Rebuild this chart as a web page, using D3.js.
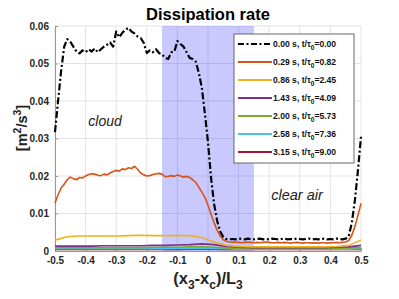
<!DOCTYPE html>
<html>
<head>
<meta charset="utf-8">
<script src="https://cdn.jsdelivr.net/npm/d3@7"></script>
<style>
  body { margin: 0; background: #fff; }
  text { font-family: "Liberation Sans", Arial, sans-serif; }
</style>
</head>
<body>
<script>
// fine grid for the two strong curves, coarse grid for the rest
const xFine = [-0.50,-0.49,-0.48,-0.47,-0.46,-0.45,-0.44,-0.43,-0.42,-0.41,
  -0.40,-0.39,-0.38,-0.37,-0.36,-0.35,-0.34,-0.33,-0.32,-0.31,
  -0.30,-0.29,-0.28,-0.27,-0.26,-0.25,-0.24,-0.23,-0.22,-0.21,
  -0.20,-0.19,-0.18,-0.17,-0.16,-0.15,-0.14,-0.13,-0.12,-0.11,
  -0.10,-0.09,-0.08,-0.07,-0.06,-0.05,-0.04,-0.03,-0.02,-0.01,
  0.00,0.01,0.02,0.03,0.04,0.05,0.06,0.07,0.08,0.09,
  0.10,0.11,0.12,0.13,0.14,0.15,0.16,0.17,0.18,0.19,
  0.20,0.21,0.22,0.23,0.24,0.25,0.26,0.27,0.28,0.29,
  0.30,0.31,0.32,0.33,0.34,0.35,0.36,0.37,0.38,0.39,
  0.40,0.41,0.42,0.43,0.44,0.45,0.46,0.47,0.48,0.49,0.50];

const eps0 = [0.0317,0.0400,0.0480,0.0545,0.0565,0.0558,0.0545,0.0532,0.0527,0.0535,
  0.0530,0.0538,0.0532,0.0540,0.0530,0.0538,0.0545,0.0550,0.0556,0.0545,
  0.0585,0.0570,0.0582,0.0590,0.0595,0.0585,0.0580,0.0572,0.0568,0.0555,
  0.0528,0.0535,0.0530,0.0538,0.0528,0.0524,0.0515,0.0512,0.0530,0.0532,
  0.0560,0.0552,0.0545,0.0530,0.0515,0.0512,0.0505,0.0475,0.0435,0.0365,
  0.0290,0.0195,0.0125,0.0080,0.0052,0.0037,0.0032,0.0031,0.0032,0.0031,
  0.0033,0.0032,0.0031,0.0033,0.0032,0.0031,0.0032,0.0033,0.0031,0.0032,
  0.0031,0.0033,0.0032,0.0031,0.0032,0.0033,0.0031,0.0032,0.0031,0.0033,
  0.0032,0.0031,0.0032,0.0033,0.0031,0.0032,0.0031,0.0032,0.0033,0.0031,
  0.0032,0.0031,0.0033,0.0032,0.0031,0.0033,0.0040,0.0075,0.0135,0.0215,0.0305];

const eps1 = [0.0128,0.0150,0.0168,0.0178,0.0190,0.0197,0.0193,0.0190,0.0196,0.0195,
  0.0200,0.0204,0.0206,0.0205,0.0202,0.0201,0.0205,0.0203,0.0208,0.0212,
  0.0215,0.0213,0.0219,0.0217,0.0222,0.0220,0.0226,0.0218,0.0208,0.0203,
  0.0200,0.0201,0.0204,0.0206,0.0207,0.0205,0.0198,0.0199,0.0201,0.0199,
  0.0203,0.0200,0.0197,0.0199,0.0196,0.0190,0.0183,0.0170,0.0157,0.0143,
  0.0122,0.0098,0.0075,0.0055,0.0040,0.0030,0.0026,0.0024,0.0023,0.0024,
  0.0023,0.0022,0.0023,0.0024,0.0023,0.0022,0.0023,0.0022,0.0023,0.0024,
  0.0023,0.0022,0.0022,0.0023,0.0022,0.0023,0.0022,0.0021,0.0022,0.0023,
  0.0022,0.0021,0.0022,0.0022,0.0021,0.0022,0.0021,0.0022,0.0022,0.0021,
  0.0022,0.0022,0.0023,0.0022,0.0023,0.0024,0.0028,0.0042,0.0065,0.0095,0.0127];

const xCoarse = [-0.50,-0.46,-0.42,-0.38,-0.34,-0.30,-0.26,-0.22,-0.18,-0.14,
  -0.10,-0.06,-0.02,0.02,0.06,0.10,0.14,0.18,0.22,0.26,
  0.30,0.34,0.38,0.42,0.46,0.50];

const eps2 = [0.0029,0.0038,0.0040,0.0040,0.0040,0.0040,0.0041,0.0042,0.0041,0.0041,
  0.0041,0.0041,0.0036,0.0024,0.0015,0.0012,0.0011,0.0011,0.0011,0.0011,
  0.0011,0.0011,0.0011,0.0012,0.0015,0.0029];
const eps3 = [0.0013,0.0013,0.0013,0.0013,0.0014,0.0014,0.0014,0.0014,0.0015,0.0015,
  0.0016,0.0017,0.0019,0.0017,0.0012,0.0010,0.0009,0.0009,0.0009,0.0009,
  0.0009,0.0009,0.0009,0.0010,0.0011,0.0015];
const eps4 = [0.0009,0.0009,0.0009,0.0009,0.0009,0.0009,0.0009,0.0009,0.0010,0.0010,
  0.0010,0.0011,0.0011,0.0010,0.0008,0.0007,0.0007,0.0007,0.0007,0.0007,
  0.0007,0.0007,0.0007,0.0007,0.0008,0.0009];
const eps5 = [0.0006,0.0006,0.0006,0.0006,0.0006,0.0006,0.0006,0.0006,0.0006,0.0006,
  0.0007,0.0007,0.0007,0.0007,0.0006,0.0005,0.0005,0.0005,0.0005,0.0005,
  0.0005,0.0005,0.0005,0.0005,0.0005,0.0006];
const eps6 = [0.0004,0.0004,0.0004,0.0004,0.0004,0.0004,0.0004,0.0004,0.0004,0.0004,
  0.0004,0.0005,0.0005,0.0005,0.0004,0.0004,0.0004,0.0004,0.0004,0.0004,
  0.0004,0.0004,0.0004,0.0004,0.0004,0.0004];

const times = ["0.00", "0.29", "0.86", "1.43", "2.00", "2.58", "3.15"];
const tauRatios = ["0.00", "0.82", "2.45", "4.09", "5.73", "7.36", "9.00"];
const colors = ["#000000", "#D95319", "#EDB120", "#7E2F8E", "#77AC30", "#4DBEEE", "#A2142F"];

const xTicks = [-0.5, -0.4, -0.3, -0.2, -0.1, 0, 0.1, 0.2, 0.3, 0.4, 0.5];
const yTicks = [0, 0.01, 0.02, 0.03, 0.04, 0.05, 0.06];
const bandRange = [-0.15, 0.15];

const width = 399, height = 299;
const margin = {top: 26, right: 38, bottom: 48, left: 55};

const series = [
  {x: xFine, y: eps0}, {x: xFine, y: eps1}, {x: xCoarse, y: eps2},
  {x: xCoarse, y: eps3}, {x: xCoarse, y: eps4}, {x: xCoarse, y: eps5},
  {x: xCoarse, y: eps6}
];

const svg = d3.select("body").append("svg")
  .attr("width", width).attr("height", height);

const xScale = d3.scaleLinear().domain([-0.5, 0.5]).range([margin.left, width - margin.right]);
const yScale = d3.scaleLinear().domain([0, 0.06]).range([height - margin.bottom, margin.top]);

// matlab-ish labels: plain hyphen, no unicode minus
const fmtX = d => d === 0 ? "0" : d3.format(".1f")(d).replace("\u2212", "-");
const fmtY = d => d === 0 ? "0" : d3.format(".2f")(d);

// grid
svg.append("g").selectAll("line").data(xTicks).join("line")
  .attr("x1", d => xScale(d)).attr("x2", d => xScale(d))
  .attr("y1", yScale(0)).attr("y2", yScale(0.06))
  .attr("stroke", "#e3e3e3").attr("stroke-width", 1);
svg.append("g").selectAll("line").data(yTicks).join("line")
  .attr("x1", xScale(-0.5)).attr("x2", xScale(0.5))
  .attr("y1", d => yScale(d)).attr("y2", d => yScale(d))
  .attr("stroke", "#e3e3e3").attr("stroke-width", 1);

// shaded transition band
svg.append("rect")
  .attr("x", xScale(bandRange[0])).attr("width", xScale(bandRange[1]) - xScale(bandRange[0]))
  .attr("y", yScale(0.06)).attr("height", yScale(0) - yScale(0.06))
  .attr("fill", "#0000ff").attr("fill-opacity", 0.21);

// axes
const xAxis = svg.append("g")
  .attr("transform", `translate(0,${yScale(0)})`)
  .call(d3.axisBottom(xScale).tickValues(xTicks).tickSizeInner(-3).tickSizeOuter(0).tickPadding(6)
    .tickFormat(fmtX));
const yAxis = svg.append("g")
  .attr("transform", `translate(${xScale(-0.5)},0)`)
  .call(d3.axisLeft(yScale).tickValues(yTicks).tickSizeInner(-3).tickSizeOuter(0).tickPadding(6)
    .tickFormat(fmtY));
[xAxis, yAxis].forEach(g => {
  g.select(".domain").attr("stroke", "#999");
  g.selectAll(".tick line").attr("stroke", "#999");
  g.selectAll(".tick text").attr("fill", "#262626")
    .style("font-size", "10px").style("font-weight", "bold");
});

// curves, drawn weakest first so the strong ones sit on top
const line = d3.line().x(d => xScale(d[0])).y(d => yScale(d[1]));
series.slice().reverse().forEach((s, ri) => {
  const i = series.length - 1 - ri;
  svg.append("path")
    .datum(d3.zip(s.x, s.y))
    .attr("d", line)
    .attr("fill", "none")
    .attr("stroke", colors[i])
    .attr("stroke-width", i === 0 ? 2.2 : 1.6)
    .attr("stroke-dasharray", i === 0 ? "7,2.5,2,2.5" : null)
    .attr("stroke-linejoin", "round");
});

// annotations
svg.append("text").attr("x", 105).attr("y", 126).attr("text-anchor", "middle")
  .style("font-size", "14px").style("font-style", "italic").attr("fill", "#222").text("cloud");
svg.append("text").attr("x", 297).attr("y", 200).attr("text-anchor", "middle")
  .style("font-size", "14.5px").style("font-style", "italic").attr("fill", "#222").text("clear air");

// title and axis labels
svg.append("text").attr("x", 208).attr("y", 20).attr("text-anchor", "middle")
  .style("font-size", "16.5px").style("font-weight", "bold").attr("fill", "#000").text("Dissipation rate");

const xl = svg.append("text").attr("x", 208).attr("y", 284).attr("text-anchor", "middle")
  .style("font-size", "16.5px").style("font-weight", "bold").attr("fill", "#222");
xl.append("tspan").text("(x");
xl.append("tspan").attr("dy", 5).style("font-size", "12px").text("3");
xl.append("tspan").attr("dy", -5).text("-x");
xl.append("tspan").attr("dy", 5).style("font-size", "12px").text("c");
xl.append("tspan").attr("dy", -5).text(")/L");
xl.append("tspan").attr("dy", 5).style("font-size", "12px").text("3");

const yl = svg.append("text").attr("transform", "translate(27,128) rotate(-90)")
  .attr("text-anchor", "middle")
  .style("font-size", "14.5px").style("font-weight", "bold").attr("fill", "#222");
yl.append("tspan").text("[m");
yl.append("tspan").attr("dy", -6).style("font-size", "10.5px").text("2");
yl.append("tspan").attr("dy", 6).text("/s");
yl.append("tspan").attr("dy", -6).style("font-size", "10.5px").text("3");
yl.append("tspan").attr("dy", 6).text("]");

// legend
const legend = svg.append("g").attr("transform", "translate(234,34)");
legend.append("rect").attr("width", 120).attr("height", 129)
  .attr("fill", "#fff").attr("stroke", "#444").attr("stroke-width", 0.8);
const rows = legend.selectAll("g.row").data(times).join("g")
  .attr("class", "row")
  .attr("transform", (d, i) => `translate(0,${10 + i * 18})`);
rows.append("line").attr("x1", 4).attr("x2", 38).attr("y1", 0).attr("y2", 0)
  .attr("stroke", (d, i) => colors[i])
  .attr("stroke-width", (d, i) => i === 0 ? 2 : 1.8)
  .attr("stroke-dasharray", (d, i) => i === 0 ? "6,2.5,2,2.5" : null);
const lt = rows.append("text").attr("x", 39).attr("y", 3)
  .style("font-size", "8.6px").style("font-weight", "bold").attr("fill", "#111");
lt.append("tspan").text(d => `${d} s, t/\u03C4`);
lt.append("tspan").attr("dy", 3).style("font-size", "6.5px").text("0");
lt.append("tspan").attr("dy", -3).text((d, i) => `=${tauRatios[i]}`);
</script>
</body>
</html>
